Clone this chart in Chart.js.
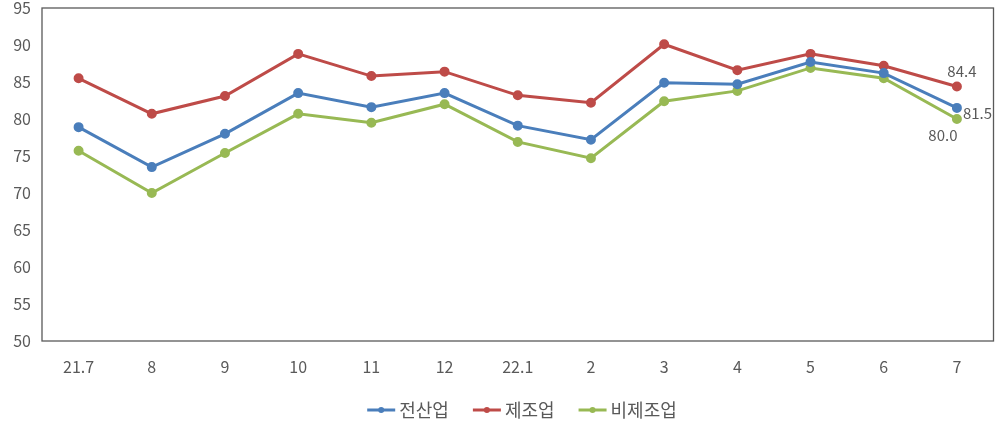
<!DOCTYPE html>
<html>
<head>
<meta charset="utf-8">
<script src="https://cdn.jsdelivr.net/npm/chart.js@4"></script>
<style>
  html, body { margin: 0; padding: 0; background: #fff; }
  #wrap { width: 1000px; height: 423px; }
</style>
</head>
<body>
<div id="wrap"><canvas id="chart-bsi"></canvas></div>
<script>
var months = ["21.7", "8", "9", "10", "11", "12", "22.1", "2", "3", "4", "5", "6", "7"]
var allInd = [78.9, 73.5, 78.0, 83.5, 81.6, 83.5, 79.1, 77.2, 84.9, 84.7, 87.7, 86.2, 81.5]
var manuf = [85.5, 80.7, 83.1, 88.8, 85.8, 86.4, 83.2, 82.2, 90.1, 86.6, 88.8, 87.2, 84.4]
var nonManuf = [75.7, 70.0, 75.4, 80.7, 79.5, 82.0, 76.9, 74.7, 82.4, 83.8, 86.9, 85.5, 80.0]
var seriesNames = ["전산업", "제조업", "비제조업"]
var seriesColors = ["#4a7ebb", "#be4b48", "#98b954"]

var fontFam = "'Noto Sans CJK KR', 'Noto Sans', sans-serif"
var textColor = "#595959"

// border round the plot
var boxPlugin = {
	id: "box",
	afterDraw: function(chart) {
		var a = chart.chartArea, g = chart.ctx
		g.save()
		g.strokeStyle = "#595959"; g.lineWidth = 1.3
		g.strokeRect(a.left, a.top, a.right - a.left, a.bottom - a.top)
		g.restore()
	}
}

// labels on the last month
var lastLabels = {
	id: "lastLabels",
	afterDatasetsDraw: function(chart) {
		var g = chart.ctx
		// dx, dy, align
		var offs = [[6, 5, "left"], [5, -15, "center"], [-14, 16, "center"]]
		g.save()
		g.font = "15px " + fontFam
		g.fillStyle = textColor
		g.textBaseline = "middle"
		chart.data.datasets.forEach(function(ds, i) {
			var pts = chart.getDatasetMeta(i).data
			var p = pts[pts.length - 1]
			var o = offs[i]
			g.textAlign = o[2]
			g.fillText(ds.data[ds.data.length - 1].toFixed(1), p.x + o[0], p.y + o[1])
		})
		g.restore()
	}
}

// legend drawn by hand so the marks and gaps match
var legendPlugin = {
	id: "myLegend",
	afterDraw: function(chart) {
		var g = chart.ctx
		var markW = 28, gap = 4, itemGap = 24, cy = 410, midX = 522
		g.save()
		g.font = "18px " + fontFam
		g.textBaseline = "middle"
		g.textAlign = "left"
		var widths = seriesNames.map(function(t) { return g.measureText(t).width })
		var total = 0
		widths.forEach(function(w, i) { total += markW + gap + w + (i ? itemGap : 0) })
		var x = midX - total / 2
		seriesNames.forEach(function(t, i) {
			var c = seriesColors[i]
			g.strokeStyle = c; g.lineWidth = 3
			g.beginPath(); g.moveTo(x, cy); g.lineTo(x + markW, cy); g.stroke()
			g.fillStyle = c
			g.beginPath(); g.arc(x + markW / 2, cy, 3, 0, Math.PI * 2); g.fill()
			g.fillStyle = textColor
			g.fillText(t, x + markW + gap, cy)
			x += markW + gap + widths[i] + itemGap
		})
		g.restore()
	}
}

var ctx = document.getElementById("chart-bsi").getContext("2d")
var chart = new Chart(ctx, {
	type: "line",
	data: {
		labels: months,
		datasets: [allInd, manuf, nonManuf].map(function(d, i) {
			return {
				label: seriesNames[i],
				data: d,
				borderColor: seriesColors[i],
				backgroundColor: seriesColors[i],
				borderWidth: 3,
				pointRadius: 3.5,
				pointHoverRadius: 3.5,
				tension: 0
			}
		})
	},
	options: {
		responsive: true,
		maintainAspectRatio: false,
		animation: false,
		layout: { padding: { top: 8, right: 6, left: 0, bottom: 38 } },
		scales: {
			x: {
				offset: true,
				grid: { display: false, drawTicks: false },
				border: { display: false },
				ticks: { color: textColor, font: { family: fontFam, size: 16 }, padding: 16, maxRotation: 0 },
				afterFit: function(s) { s.height = 44 }
			},
			y: {
				min: 50, max: 95,
				grid: { display: false, drawTicks: false },
				border: { display: false },
				ticks: { stepSize: 5, color: textColor, font: { family: fontFam, size: 16 }, padding: 11 },
				afterFit: function(s) { s.width = 42; s.paddingTop = 0; s.paddingBottom = 0 }
			}
		},
		plugins: {
			legend: { display: false },
			tooltip: { enabled: false }
		}
	},
	plugins: [boxPlugin, lastLabels, legendPlugin]
})
</script>
</body>
</html>
